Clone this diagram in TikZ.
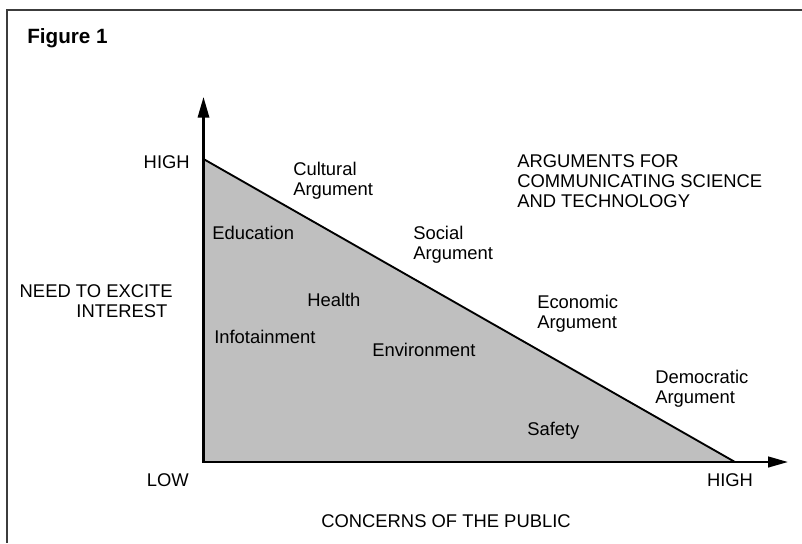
\documentclass[tikz,border=0pt]{standalone}
\usepackage{fontspec}
\setmainfont{Liberation Sans}
\usepackage{tikz}
\usetikzlibrary{arrows.meta}
\definecolor{areagray}{RGB}{191,191,191}
\definecolor{framegray}{RGB}{60,60,60}

\begin{document}
\begin{tikzpicture}[x=0.75pt,y=-0.75pt,
		txt/.style={inner sep=0pt,font=\fontsize{13.8}{15}\selectfont,align=left},
		axis/.style={line width=1.7pt,{Triangle[length=15.5pt,width=8.5pt]}-{Triangle[length=15pt,width=8pt]}}]

		\useasboundingbox (0,0) rectangle (802,543);
		\draw[framegray,line width=1.5pt] (802,10) -| (7,543);

		\coordinate (O) at (203.5,462);
		\coordinate (P) at (203.5,159);
		\coordinate (Q) at (735,462);
		\coordinate (YT) at (203.5,97);
		\coordinate (XT) at (788,462);

		\filldraw[fill=areagray,line width=1.4pt] (O) -- (P) -- (Q) -- cycle;
		\draw[axis] (YT) -- (O) -- (XT);

		\node[txt,anchor=west,font=\bfseries\fontsize{15.5}{18}\selectfont] (FIG) at (27,38) {Figure 1};

		\node[txt,anchor=east] (HY) at (190,162) {HIGH};
		\node[txt,anchor=east] (LO) at (189,480.5) {LOW};
		\node[txt] (HX) at (730,480.5) {HIGH};
		\node[txt,anchor=east,align=right] (NE) at (173,301) {NEED TO EXCITE\\INTEREST\hspace*{4pt}};
		\node[txt,anchor=west] (CP) at (321,521) {CONCERNS OF THE PUBLIC};

		\node[txt,anchor=west] (AR) at (517,181) {ARGUMENTS FOR\\COMMUNICATING SCIENCE\\AND TECHNOLOGY};
		\node[txt,anchor=west] (CU) at (293,181) {Cultural\\Argument};
		\node[txt,anchor=west] (SO) at (413,245) {Social\\Argument};
		\node[txt,anchor=west] (EC) at (537,314) {Economic\\Argument};
		\node[txt,anchor=west] (DE) at (655,389) {Democratic\\Argument};

		\node[txt,anchor=west] (ED) at (212,233) {Education};
		\node[txt,anchor=west] (HE) at (307,300) {Health};
		\node[txt,anchor=west] (IN) at (214,337) {Infotainment};
		\node[txt,anchor=west] (EN) at (372,350) {Environment};
		\node[txt,anchor=west] (SA) at (527,431) {Safety};
	\end{tikzpicture}
\end{document}
